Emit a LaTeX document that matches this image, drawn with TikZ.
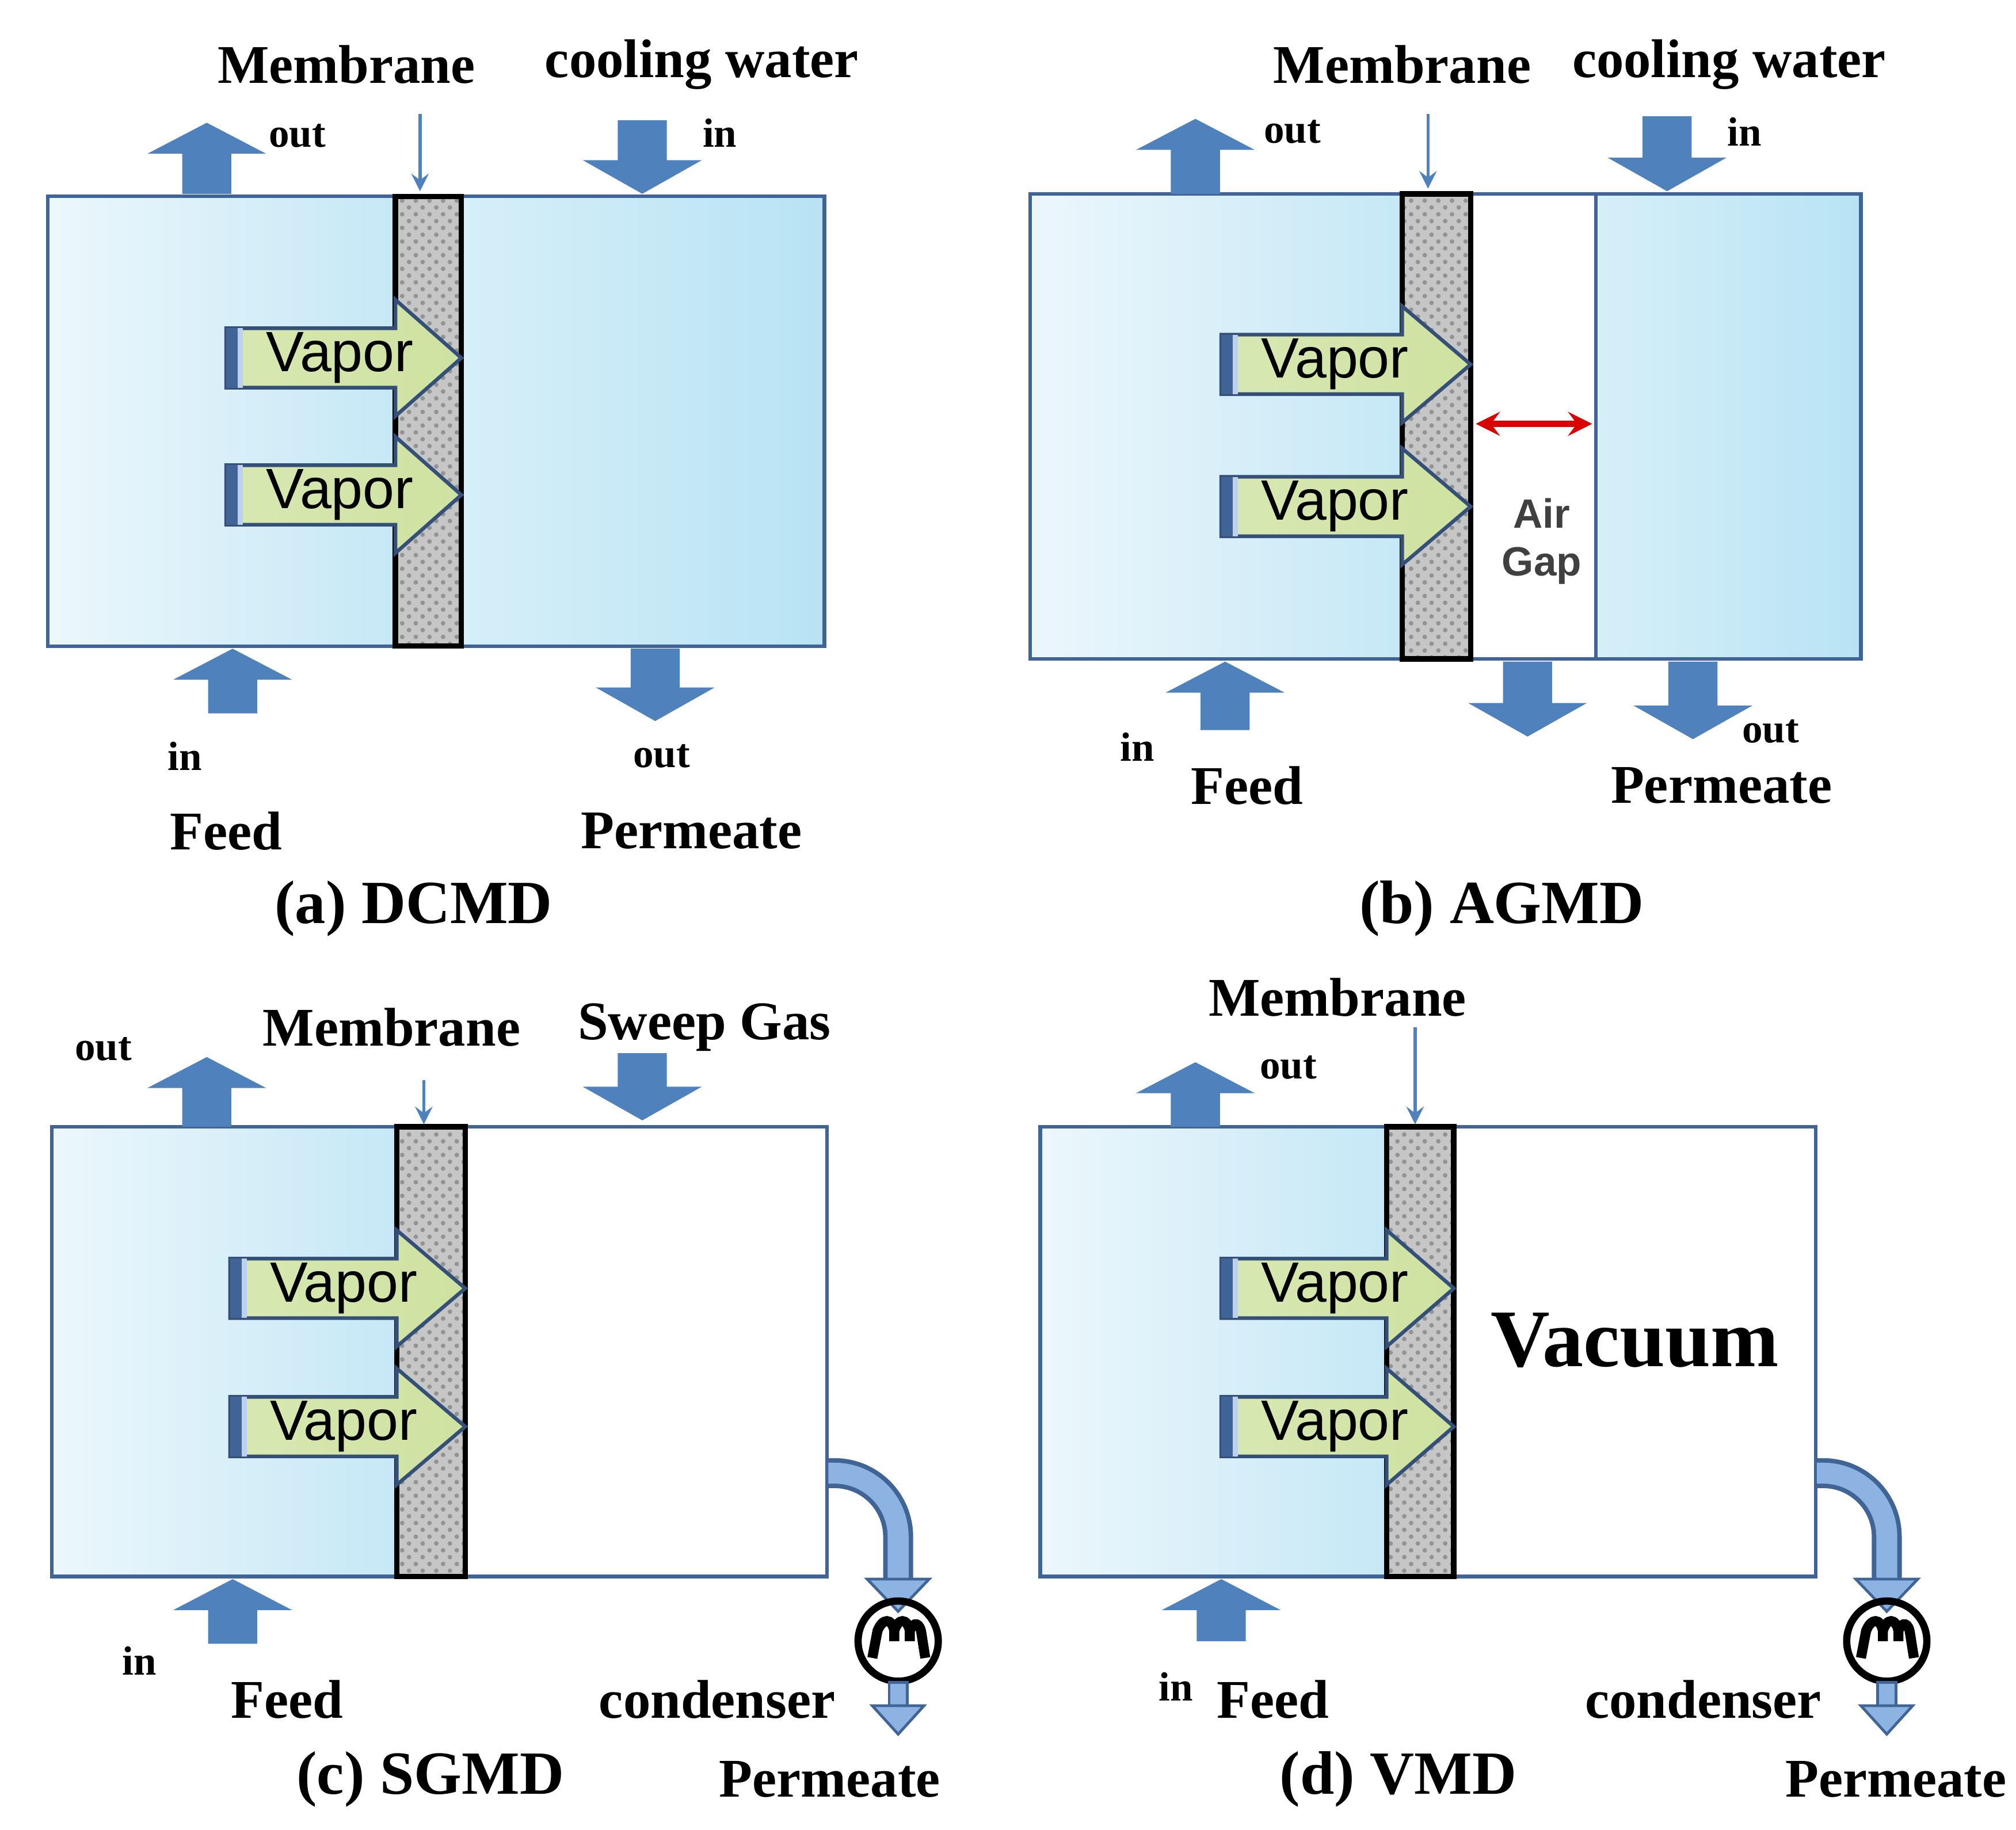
\documentclass[tikz,border=0pt]{standalone}
\usepackage{fontspec}
\setmainfont{Liberation Serif}
\newfontfamily\sansf{Liberation Sans}
\usetikzlibrary{patterns}
\definecolor{arrblue}{RGB}{79,129,189}
\definecolor{edgeblue}{RGB}{65,100,150}
\definecolor{feedL}{RGB}{236,247,252}
\definecolor{feedR}{RGB}{198,232,246}
\definecolor{coolL}{RGB}{214,239,249}
\definecolor{coolR}{RGB}{184,227,244}
\definecolor{vapgreen}{RGB}{206,226,160}
\definecolor{pipeblue}{RGB}{141,179,226}
\tikzset{
  lbl/.style={font=\fontsize{12}{14}\selectfont\bfseries},
  sml/.style={font=\fontsize{9}{10}\selectfont\bfseries},
  captxt/.style={font=\fontsize{13.5}{16}\selectfont\bfseries},
  box/.style={draw=edgeblue,line width=0.8pt},
  membfill/.style={fill=gray!45,postaction={pattern=crosshatch dots,pattern color=gray!85}},
  memb/.style={draw=black,line width=1.2pt},
  thinarr/.style={->,>=stealth,draw=arrblue,line width=0.7pt},
}
% block arrows: x, y of top, y of bottom
\newcommand\arrup[3]{\fill[arrblue] (#1-19,#3) -- (#1-19,#2+24) -- (#1-46,#2+24) -- (#1,#2)
  -- (#1+46,#2+24) -- (#1+19,#2+24) -- (#1+19,#3) -- cycle;}
\newcommand\arrdown[3]{\fill[arrblue] (#1-19,#2) -- (#1-19,#3-26) -- (#1-46,#3-26) -- (#1,#3)
  -- (#1+46,#3-26) -- (#1+19,#3-26) -- (#1+19,#2) -- cycle;}
% membrane strip: x left, x right, y top, y bottom
\newcommand\membrane[4]{
  \fill[membfill] (#1,#3) rectangle (#2,#4);
  \draw[memb] (#1,#3) rectangle (#2,#4);
}
% vapor arrow: name, x left, y centre, x head, x tip
\newcommand\vapor[5]{
  \filldraw[draw=edgeblue!80!black,line width=0.8pt,left color=vapgreen!80!white,right color=vapgreen]
    (#2,#3-23) -- (#4,#3-23) -- (#4,#3-45) -- (#5,#3) -- (#4,#3+45) -- (#4,#3+23) -- (#2,#3+23) -- cycle;
  \fill[edgeblue] (#2,#3-23) rectangle (#2+9,#3+23);
  \fill[pipeblue!60] (#2+9,#3-23) rectangle (#2+13,#3+23);
  \node[font=\sansf\fontsize{12.5}{15}\selectfont] (#1) at (#2+88,#3) {Vapor};
}
% condenser with pipe: name, x wall, y pipe, x pipe
\newcommand\condenser[4]{
  \draw[edgeblue,line width=6.6pt,rounded corners=14] (#2,#3) -- (#4,#3) -- (#4,1228);
  \draw[pipeblue,line width=4.6pt,rounded corners=14] (#2,#3) -- (#4,#3) -- (#4,1229);
  \filldraw[fill=pipeblue,draw=edgeblue,line width=0.6pt] (#4-24,1222) -- (#4+24,1222) -- (#4,1247) -- cycle;
  \node[circle,draw,line width=1.6pt,minimum size=0.62cm,inner sep=0pt] (#1) at (#4,1270) {};
  \draw[line width=2.2pt] (#4-20,1283) -- (#4-16,1262) .. controls (#4-12,1252) and (#4-5,1252) .. (#4-3,1262)
    -- (#4-3,1270) (#4-3,1262) .. controls (#4,1252) and (#4+7,1252) .. (#4+9,1262) -- (#4+9,1270)
    (#4+9,1262) .. controls (#4+12,1254) and (#4+17,1256) .. (#4+18,1264) -- (#4+21,1283);
  \filldraw[fill=pipeblue,draw=edgeblue,line width=0.6pt] (#4-7,1302) rectangle (#4+7,1322);
  \filldraw[fill=pipeblue,draw=edgeblue,line width=0.6pt] (#4-20,1320) -- (#4+20,1320) -- (#4,1342) -- cycle;
}

\begin{document}
\begin{tikzpicture}[x=0.01cm,y=-0.01cm]
\useasboundingbox (0,0) rectangle (1560,1416);
%(a) DCMD
\shade[left color=feedL,right color=feedR] (37,152) rectangle (306,500);
\shade[left color=coolL,right color=coolR] (357,152) rectangle (638,500);
\draw[box] (37,152) rectangle (638,500);
\membrane{306}{357}{152}{500}
\vapor{vapA1}{175}{277}{306}{357}
\vapor{vapA2}{175}{383}{306}{357}
\arrup{160}{95}{150}
\arrdown{497}{93}{150}
\arrup{180}{502}{552}
\arrdown{507}{502}{558}
\node[lbl] (membA) at (268,50) {Membrane};
\node[lbl] (coolA) at (543,50) {cooling water};
\coordinate (membAtop) at (325,88);
\draw[thinarr] (membAtop) -- (325,148);
\node[sml] (outA1) at (230,105) {out};
\node[sml] (inA1) at (557,103) {in};
\node[sml] (inA2) at (143,585) {in};
\node[sml] (outA2) at (512,585) {out};
\node[lbl] (feedA) at (175,643) {Feed};
\node[lbl] (permA) at (535,643) {Permeate};
\node[captxt] (capA) at (320,703) {(a) DCMD};
%(b) AGMD
\shade[left color=feedL,right color=feedR] (797,150) rectangle (1085,510);
\shade[left color=coolL,right color=coolR] (1235,150) rectangle (1440,510);
\draw[box] (797,150) rectangle (1440,510);
\draw[box] (1235,150) -- (1235,510);
\membrane{1085}{1138}{150}{510}
\vapor{vapB1}{945}{282}{1085}{1138}
\vapor{vapB2}{945}{392}{1085}{1138}
\draw[<->,>=stealth,red!85!black,line width=1.3pt] (1142,328) -- (1232,328);
\node[font=\sansf\bfseries\fontsize{9}{10.5}\selectfont,align=center,text=black!75] (gapB) at (1193,419) {Air\\Gap};
\arrup{925}{92}{150}
\arrdown{1290}{90}{148}
\arrup{948}{512}{565}
\arrdown{1182}{512}{570}
\arrdown{1310}{512}{572}
\node[lbl] (membB) at (1085,50) {Membrane};
\node[lbl] (coolB) at (1338,50) {cooling water};
\coordinate (membBtop) at (1105,88);
\draw[thinarr] (membBtop) -- (1105,146);
\node[sml] (outB1) at (1000,102) {out};
\node[sml] (inB1) at (1350,102) {in};
\node[sml] (inB2) at (880,578) {in};
\node[sml] (outB2) at (1370,566) {out};
\node[lbl] (feedB) at (965,608) {Feed};
\node[lbl] (permB) at (1332,608) {Permeate};
\node[captxt] (capB) at (1162,703) {(b) AGMD};
%(c) SGMD
\shade[left color=feedL,right color=feedR] (40,872) rectangle (307,1220);
\draw[box] (40,872) rectangle (640,1220);
\membrane{307}{360}{872}{1220}
\vapor{vapC1}{178}{997}{307}{360}
\vapor{vapC2}{178}{1104}{307}{360}
\arrup{160}{818}{872}
\arrdown{497}{815}{867}
\arrup{180}{1222}{1272}
\condenser{condC}{641}{1140}{695}
\node[lbl] (membC) at (303,795) {Membrane};
\node[lbl] (sweepC) at (545,795) {Sweep Gas};
\coordinate (membCtop) at (328,836);
\draw[thinarr] (membCtop) -- (328,870);
\node[sml] (outC) at (80,812) {out};
\node[sml] (inC) at (108,1285) {in};
\node[lbl] (feedC) at (222,1315) {Feed};
\node[lbl] (condCl) at (555,1315) {condenser};
\node[lbl] (permC) at (642,1377) {Permeate};
\node[captxt] (capC) at (333,1377) {(c) SGMD};
%(d) VMD
\shade[left color=feedL,right color=feedR] (805,872) rectangle (1073,1220);
\draw[box] (805,872) rectangle (1405,1220);
\membrane{1073}{1125}{872}{1220}
\vapor{vapD1}{945}{997}{1073}{1125}
\vapor{vapD2}{945}{1104}{1073}{1125}
\arrup{925}{822}{872}
\arrup{945}{1222}{1270}
\condenser{condD}{1406}{1140}{1460}
\node[font=\fontsize{18}{20}\selectfont\bfseries] (vacD) at (1265,1037) {Vacuum};
\node[lbl] (membD) at (1035,772) {Membrane};
\coordinate (membDtop) at (1095,795);
\draw[thinarr] (membDtop) -- (1095,870);
\node[sml] (outD) at (997,826) {out};
\node[sml] (inD) at (910,1305) {in};
\node[lbl] (feedD) at (985,1315) {Feed};
\node[lbl] (condDl) at (1318,1315) {condenser};
\node[lbl] (permD) at (1467,1377) {Permeate};
\node[captxt] (capD) at (1082,1377) {(d) VMD};
\end{tikzpicture}
\end{document}
